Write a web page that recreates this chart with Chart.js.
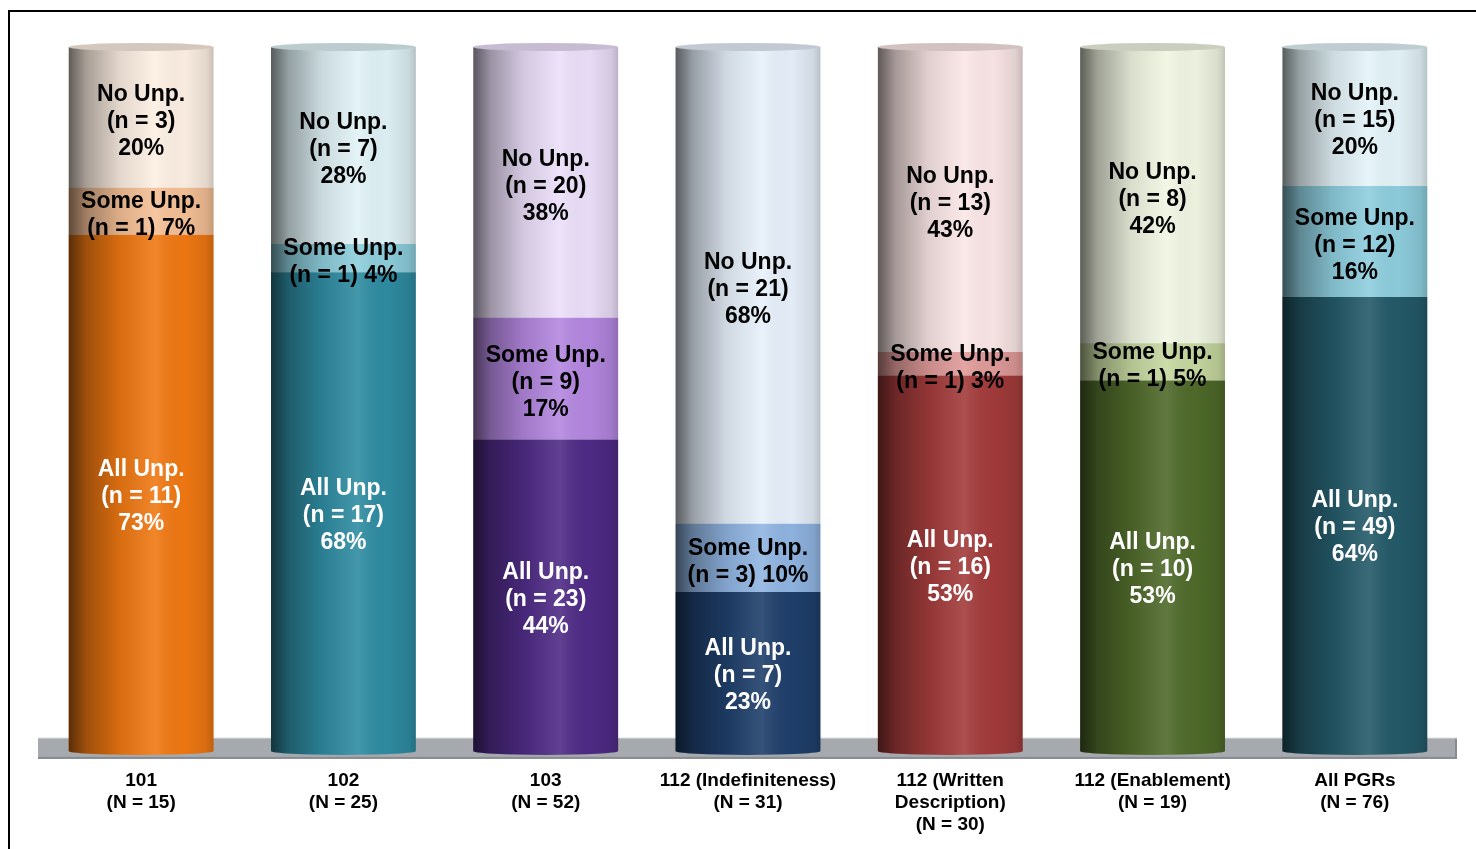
<!DOCTYPE html>
<html>
<head>
<meta charset="utf-8">
<script src="https://cdn.jsdelivr.net/npm/chart.js@4.4.1/dist/chart.umd.min.js"></script>
<style>
  html, body { margin: 0; padding: 0; background: #fff; overflow: hidden; }
  #wrap { position: relative; width: 1476px; height: 849px; }
  #frame { position: absolute; left: 8px; top: 10px; width: 1520px; height: 900px; border: 2px solid #000; box-sizing: border-box; pointer-events: none; }
</style>
</head>
<body>
<div id="wrap">
  <canvas id="chart" width="1476" height="849"></canvas>
  <div id="frame"></div>
</div>
<script>
const categories = [
  ["101", "(N = 15)"],
  ["102", "(N = 25)"],
  ["103", "(N = 52)"],
  ["112 (Indefiniteness)", "(N = 31)"],
  ["112 (Written", "Description)", "(N = 30)"],
  ["112 (Enablement)", "(N = 19)"],
  ["All PGRs", "(N = 76)"],
];

// counts per segment (bottom -> top)
const allCounts = [11, 17, 23, 7, 16, 10, 49];
const someCounts = [1, 1, 9, 3, 1, 1, 12];
const noCounts = [3, 7, 20, 21, 13, 8, 15];

// percentages as printed
const allPct = [73, 68, 44, 23, 53, 53, 64];
const somePct = [7, 4, 17, 10, 3, 5, 16];
const noPct = [20, 28, 38, 68, 43, 42, 20];

const allColors = ["#F07812", "#2F8CA2", "#4F2B86", "#1F3F6B", "#A33B3B", "#4F6A2A", "#245A69"];
const someColors = ["#F5C096", "#8DCEDC", "#B487E0", "#90B5E2", "#E09B99", "#C6D8A0", "#8ECEDE"];
const noColors = ["#FDEFE3", "#E0F2F6", "#ECDFFA", "#E7F0FB", "#FBE6E6", "#F1F6E3", "#E4F4F9"];

const FONT = "'Liberation Sans', Arial, sans-serif";

function share(counts) {
  return counts.map((n, i) => (n / (allCounts[i] + someCounts[i] + noCounts[i])) * 100);
}

// gray platform under the cylinders
const floorPlugin = {
  id: "floor",
  beforeDatasetsDraw(chart) {
    const { ctx, chartArea: { left, right }, scales: { y } } = chart;
    const base = y.getPixelForValue(0);
    ctx.save();
    ctx.fillStyle = "#A6AAAE";
    ctx.fillRect(left - 2, base - 13, right - left + 3, 21);
    ctx.fillStyle = "#888C90";
    ctx.fillRect(left - 2, base + 6, right - left + 3, 2);
    ctx.fillRect(right - 1, base - 13, 2, 21);
    ctx.fillStyle = "#C4C7CA";
    ctx.fillRect(left - 2, base - 13, right - left + 3, 1);
    ctx.restore();
  },
};

// shading + ellipses so each stack looks like a cylinder
const cylinderPlugin = {
  id: "cylinder",
  afterDatasetsDraw(chart) {
    const { ctx } = chart;
    const bottom = chart.getDatasetMeta(0).data;
    const top = chart.getDatasetMeta(2).data;
    bottom.forEach((bar, i) => {
      const x = bar.x, w = bar.width, rx = w / 2, ry = 4;
      const yTop = top[i].y, yBase = bar.base;
      ctx.save();
      ctx.fillStyle = allColors[i];
      ctx.beginPath();
      ctx.ellipse(x, yBase, rx, ry, 0, 0, Math.PI);
      ctx.fill();

      ctx.beginPath();
      ctx.moveTo(x - rx, yTop);
      ctx.lineTo(x + rx, yTop);
      ctx.lineTo(x + rx, yBase);
      ctx.ellipse(x, yBase, rx, ry, 0, 0, Math.PI);
      ctx.closePath();
      const g = ctx.createLinearGradient(x - rx, 0, x + rx, 0);
      g.addColorStop(0, "rgba(0,0,0,0.62)");
      g.addColorStop(0.12, "rgba(0,0,0,0.34)");
      g.addColorStop(0.35, "rgba(0,0,0,0.1)");
      g.addColorStop(0.6, "rgba(255,255,255,0.1)");
      g.addColorStop(0.8, "rgba(0,0,0,0.02)");
      g.addColorStop(0.95, "rgba(0,0,0,0.1)");
      g.addColorStop(1, "rgba(0,0,0,0.2)");
      ctx.fillStyle = g;
      ctx.fill();

      ctx.beginPath();
      ctx.ellipse(x, yTop, rx, ry, 0, 0, Math.PI * 2);
      ctx.fillStyle = noColors[i];
      ctx.fill();
      ctx.fillStyle = "rgba(0,0,0,0.16)";
      ctx.fill();
      ctx.restore();
    });
  },
};

const segLabelPlugin = {
  id: "segLabels",
  afterDatasetsDraw(chart) {
    const { ctx } = chart;
    ctx.save();
    ctx.font = "bold 23px " + FONT;
    ctx.textAlign = "center";
    ctx.textBaseline = "middle";
    const lh = 27;
    chart.data.datasets.forEach((ds, d) => {
      chart.getDatasetMeta(d).data.forEach((bar, i) => {
        let lines;
        if (d === 0) lines = ["All Unp.", `(n = ${allCounts[i]})`, `${allPct[i]}%`];
        else if (d === 1) lines = somePct[i] < 15
          ? ["Some Unp.", `(n = ${someCounts[i]}) ${somePct[i]}%`]
          : ["Some Unp.", `(n = ${someCounts[i]})`, `${somePct[i]}%`];
        else lines = ["No Unp.", `(n = ${noCounts[i]})`, `${noPct[i]}%`];
        const cy = (bar.y + bar.base) / 2 + 4;
        ctx.fillStyle = d === 0 ? "#FFFFFF" : "#000000";
        lines.forEach((t, k) => {
          ctx.fillText(t, bar.x, cy + (k - (lines.length - 1) / 2) * lh);
        });
      });
    });
    ctx.restore();
  },
};

new Chart(document.getElementById("chart"), {
  type: "bar",
  data: {
    labels: categories,
    datasets: [
      { label: "All Unp.", data: share(allCounts), backgroundColor: allColors },
      { label: "Some Unp.", data: share(someCounts), backgroundColor: someColors },
      { label: "No Unp.", data: share(noCounts), backgroundColor: noColors },
    ],
  },
  options: {
    responsive: false,
    animation: false,
    layout: { padding: { left: 40, right: 20, top: 47, bottom: -6 } },
    datasets: { bar: { categoryPercentage: 1, barPercentage: 0.716, borderWidth: 0 } },
    plugins: { legend: { display: false }, tooltip: { enabled: false } },
    scales: {
      x: {
        stacked: true,
        grid: { display: false, drawTicks: false },
        border: { display: false },
        ticks: {
          color: "#000",
          padding: 19,
          autoSkip: false,
          maxRotation: 0,
          font: { family: FONT, size: 19, weight: "bold", lineHeight: 1.16 },
        },
      },
      y: { stacked: true, min: 0, max: 100, display: false },
    },
  },
  plugins: [floorPlugin, cylinderPlugin, segLabelPlugin],
});
</script>
</body>
</html>
